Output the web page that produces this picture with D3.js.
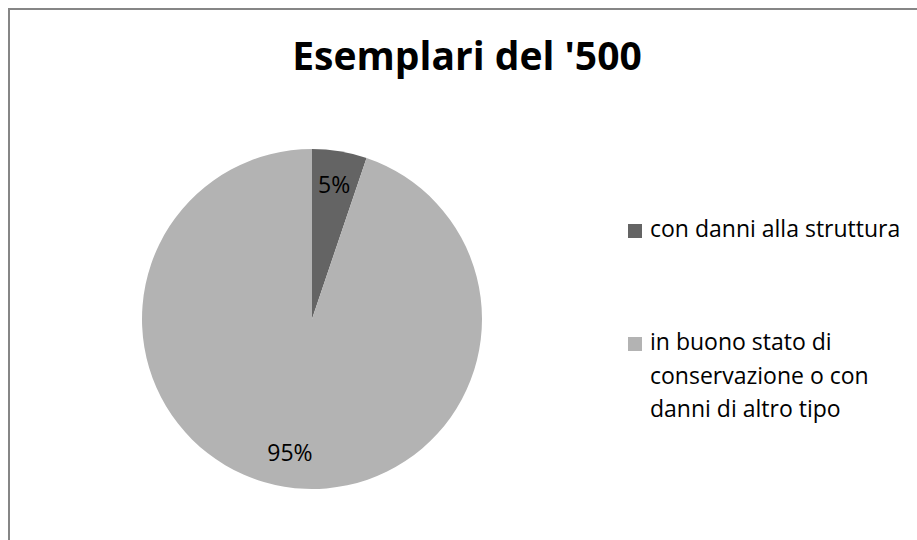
<!DOCTYPE html>
<html>
<head>
<meta charset="utf-8">
<script src="https://cdn.jsdelivr.net/npm/d3@7"></script>
<style>
  body { margin: 0; background: #fff; }
  text { font-family: "Open Sans", Calibri, sans-serif; fill: #000; }
</style>
</head>
<body>
<script>
// chart data
const categories = ["con danni alla struttura", "in buono stato di conservazione o con danni di altro tipo"];
const values = [5.2, 94.8];
const colors = ["#646464", "#b3b3b3"];
// legend text split like the original
const legendLines = [["con danni alla struttura"], ["in buono stato di", "conservazione o con", "danni di altro tipo"]];
const title = "Esemplari del '500";

const width = 917, height = 540;
const cx = 312, cy = 319, radius = 170;

const svg = d3.select("body").append("svg")
    .attr("width", width)
    .attr("height", height);

// chart area border (runs off the right/bottom like the screenshot)
svg.append("rect")
    .attr("x", 9).attr("y", 9)
    .attr("width", 960).attr("height", 580)
    .attr("fill", "none")
    .attr("stroke", "#868686")
    .attr("stroke-width", 2);

svg.append("text")
    .attr("x", 467).attr("y", 70)
    .attr("text-anchor", "middle")
    .style("font-weight", "bold")
    .style("font-size", "39px")
    .text(title);

const pie = d3.pie().sort(null).value(d => d);
const arcs = pie(values);
const total = d3.sum(values);

const arc = d3.arc().innerRadius(0).outerRadius(radius);
const labelArc = d3.arc().innerRadius(radius * 0.8).outerRadius(radius * 0.8);

const g = svg.append("g").attr("transform", `translate(${cx},${cy})`);

g.selectAll("path")
    .data(arcs)
    .enter()
    .append("path")
    .attr("d", arc)
    .attr("fill", (d, i) => colors[i]);

g.selectAll("text.lbl")
    .data(arcs)
    .enter()
    .append("text")
    .attr("class", "lbl")
    .attr("transform", d => {
        let c = labelArc.centroid(d);
        return `translate(${c[0]},${c[1]})`;
    })
    .attr("text-anchor", "middle")
    .attr("dy", "0.35em")
    .style("font-size", "23px")
    .text(d => Math.round(d.data / total * 100) + "%");

// legend
const legendY = [224, 337];
const legend = svg.append("g");
legendLines.forEach((lines, i) => {
    legend.append("rect")
        .attr("x", 628).attr("y", legendY[i])
        .attr("width", 14).attr("height", 14)
        .attr("fill", colors[i]);
    let t = legend.append("text")
        .attr("x", 650).attr("y", legendY[i] + 13)
        .style("font-size", "23px");
    lines.forEach((ln, j) => {
        t.append("tspan")
            .attr("x", 650)
            .attr("dy", j === 0 ? 0 : 33.5)
            .text(ln);
    });
});
</script>
</body>
</html>
